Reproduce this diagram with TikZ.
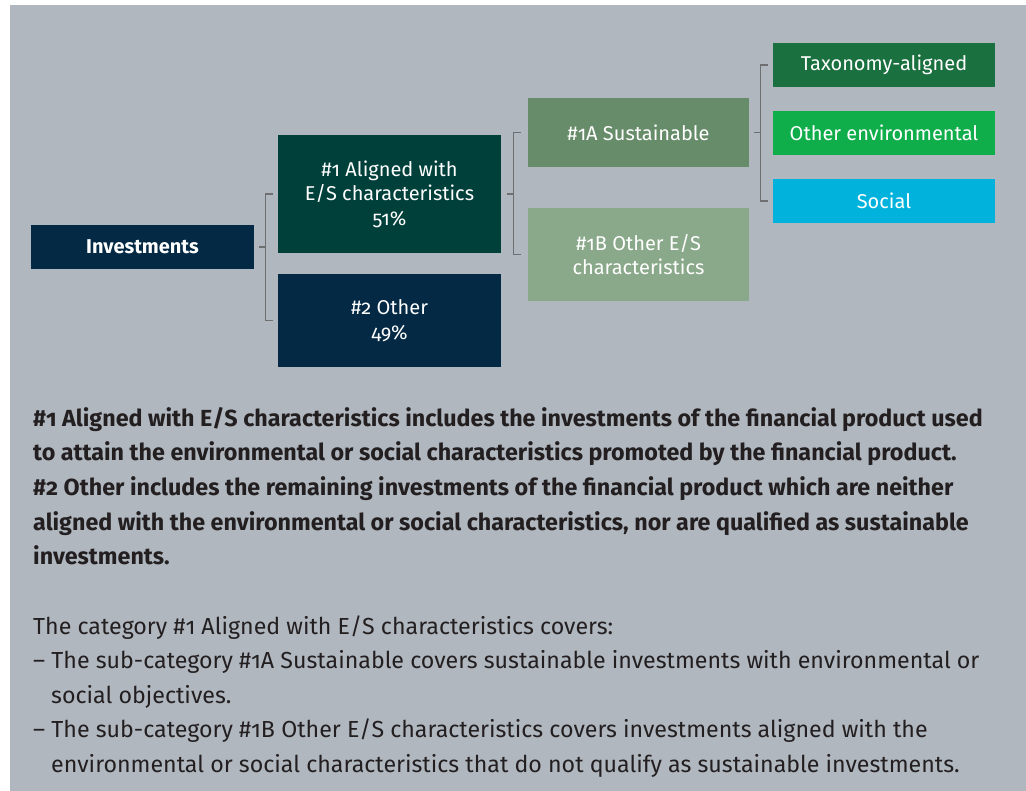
\documentclass[tikz,border=0pt]{standalone}
\usepackage{fontspec}
\setmainfont{Fira Sans}[Numbers=OldStyle]
\definecolor{bgc}{HTML}{B0B7BF}
\definecolor{navy}{HTML}{032945}
\definecolor{teal}{HTML}{00403A}
\definecolor{sA}{HTML}{678C69}
\definecolor{sB}{HTML}{8AA88A}
\definecolor{tax}{HTML}{1B7040}
\definecolor{oth}{HTML}{10AD4B}
\definecolor{soc}{HTML}{00B2DC}
\definecolor{txt}{HTML}{231F20}
\definecolor{brk}{HTML}{6D6F71}
\tikzset{
  box/.style={inner sep=0pt, align=center, text=white, font=\fontsize{20}{24.5}\selectfont},
  brack/.style={draw=brk, line width=1.1pt},
  bline/.style={anchor=base west, inner sep=0pt, text=txt, font=\fontsize{23.3}{28}\selectfont\bfseries},
  rline/.style={anchor=base west, inner sep=0pt, text=txt, font=\fontsize{23.2}{28}\selectfont},
}
\begin{document}
\begin{tikzpicture}[x=1pt,y=-1pt]
\useasboundingbox (0,0) rectangle (1026,791);
\fill[bgc] (10,5) rectangle (1026,791);
% boxes
\node[box, fill=navy, minimum width=223pt, minimum height=44pt, font=\fontsize{20}{24.5}\selectfont\bfseries] (inv) at (142.5,247) {Investments};
\node[box, fill=teal, minimum width=223pt, minimum height=118pt] (a1) at (389.5,194) {\#1 Aligned with\\E/S characteristics\\51\%};
\node[box, fill=navy, minimum width=223pt, minimum height=93pt] (o2) at (389.5,320.5) {\#2 Other\\49\%};
\node[box, fill=sA, minimum width=221pt, minimum height=69pt] (s1a) at (638.5,132.5) {\#1A Sustainable};
\node[box, fill=sB, minimum width=221pt, minimum height=93pt] (s1b) at (638.5,254.5) {\#1B Other E/S\\characteristics};
\node[box, fill=tax, minimum width=222pt, minimum height=44pt] (tx) at (884,65) {Taxonomy-aligned};
\node[box, fill=oth, minimum width=222pt, minimum height=44pt] (oe) at (884,133) {Other environmental};
\node[box, fill=soc, minimum width=222pt, minimum height=44pt] (so) at (884,201) {Social};
% brackets
\draw[brack] ([xshift=5pt]inv.east) -- ([xshift=-12pt]a1.west |- inv.east);
\draw[brack] ([xshift=-5pt]a1.west) -- ([xshift=-12pt]a1.west) -- ([xshift=-12pt]o2.west) -- ([xshift=-5pt]o2.west);
\draw[brack] ([xshift=6pt]a1.east) -- ([xshift=-14pt]s1a.west |- a1.east);
\draw[brack] ([xshift=-7pt]s1a.west) -- ([xshift=-14pt]s1a.west) -- ([xshift=-14pt]s1b.west) -- ([xshift=-7pt]s1b.west);
\draw[brack] ([xshift=5pt]s1a.east) -- ([xshift=-12pt]tx.west |- s1a.east);
\draw[brack] ([xshift=-5pt]tx.west) -- ([xshift=-12pt]tx.west) -- ([xshift=-12pt]so.west) -- ([xshift=-5pt]so.west);
% bold text
\node[bline] (b1) at (33,426.5) {\#1 Aligned with E/S characteristics includes the investments of the financial product used};
\node[bline] (b2) at (33,461) {to attain the environmental or social characteristics promoted by the financial product.};
\node[bline] (b3) at (33,495.5) {\#2 Other includes the remaining investments of the financial product which are neither};
\node[bline] (b4) at (33,530) {aligned with the environmental or social characteristics, nor are qualified as sustainable};
\node[bline] (b5) at (33,564.5) {investments.};
% regular text
\node[rline] (r1) at (33,634) {The category \#1 Aligned with E/S characteristics covers:};
\node[rline] (r2) at (33,668.5) {– The sub-category \#1A Sustainable covers sustainable investments with environmental or};
\node[rline] (r3) at (51,703) {social objectives.};
\node[rline] (r4) at (33,737.5) {– The sub-category \#1B Other E/S characteristics covers investments aligned with the};
\node[rline] (r5) at (51,772) {environmental or social characteristics that do not qualify as sustainable investments.};
\end{tikzpicture}
\end{document}
